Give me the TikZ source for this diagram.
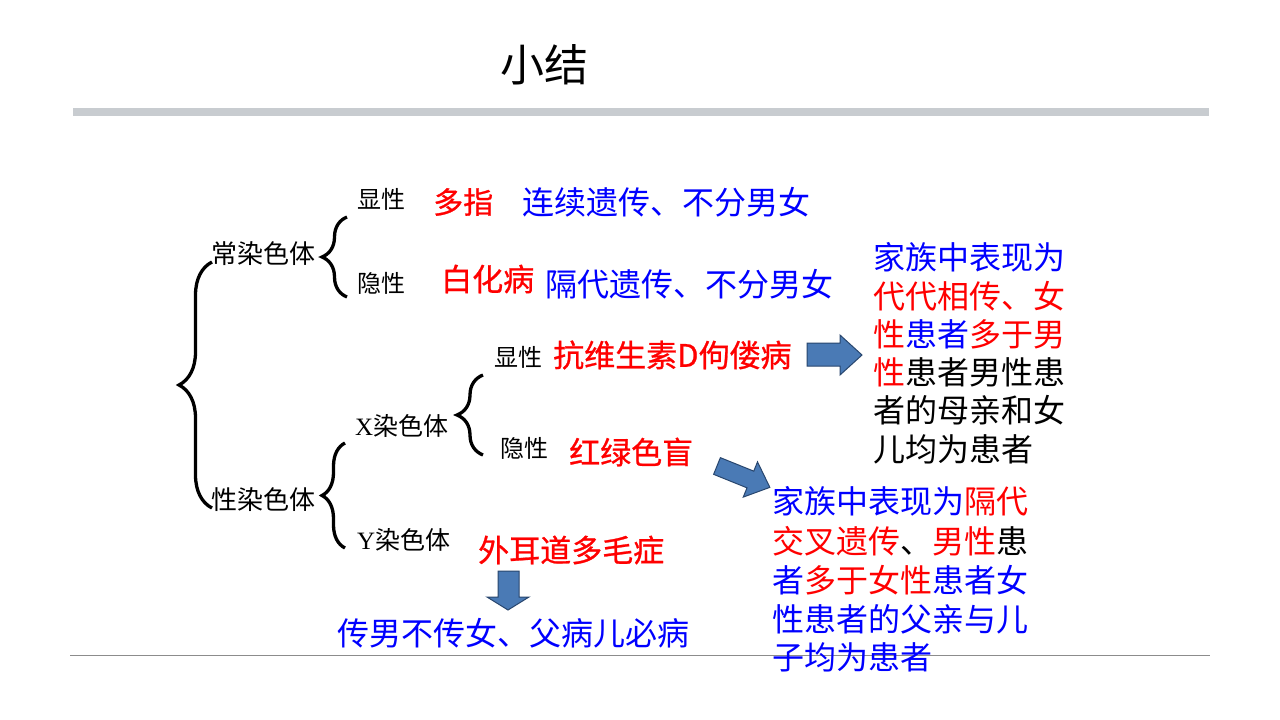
\documentclass[tikz,border=0pt]{standalone}
\usepackage{fontspec}
\setmainfont{Liberation Serif}
\newfontfamily\cjk{Noto Sans CJK SC}
\newfontfamily\cjkb[FakeBold=0.8]{Noto Sans CJK SC}
\usetikzlibrary{decorations.pathreplacing}
\definecolor{tred}{RGB}{255,0,0}
\definecolor{tblue}{RGB}{0,0,255}
\definecolor{barcol}{RGB}{200,204,208}
\definecolor{arrfill}{RGB}{74,122,181}
\definecolor{arrline}{RGB}{40,70,110}
\tikzset{
  lbl/.style={anchor=west, inner sep=0pt, font=\cjk\fontsize{24}{28}\selectfont, text=black},
  cat/.style={anchor=west, inner sep=0pt, font=\cjk\fontsize{26}{30}\selectfont, text=black},
  dis/.style={anchor=west, inner sep=0pt, font=\cjkb\fontsize{31}{36}\selectfont, text=tred},
  desc/.style={anchor=west, inner sep=0pt, font=\cjk\fontsize{32}{36}\selectfont, text=tblue},
  blk/.style={anchor=west, inner sep=0pt, font=\cjk\fontsize{32}{36}\selectfont},
  brc/.style={line width=3.3pt, decorate, decoration={brace, amplitude=#1}},
  bigarrow/.style={fill=arrfill, draw=arrline, line width=1pt, line join=miter}
}
\newcommand{\R}[1]{\textcolor{tred}{#1}}
\newcommand{\B}[1]{\textcolor{tblue}{#1}}
\newcommand{\K}[1]{\textcolor{black}{#1}}
\begin{document}
\begin{tikzpicture}[x=1pt,y=-1pt]
\useasboundingbox (0,0) rectangle (1280,720);
\fill[white] (0,0) rectangle (1280,720);

% title and rules
\node[anchor=west, inner sep=0pt, font=\cjk\fontsize{44}{50}\selectfont] (title) at (500,65) {小结};
\fill[barcol] (73,108) rectangle (1209,116);
\draw[gray!90, line width=1pt] (70,655) -- (1210,655);

% autosomal
\node[cat] (auto) at (211,254) {常染色体};
\node[lbl] (dom1) at (357,199) {显性};
\node[dis, font=\cjkb\fontsize{30}{34}\selectfont] (d1) at (433,202) {多指};
\node[desc] (t1) at (522,202) {连续遗传、不分男女};
\node[lbl] (rec1) at (357,283) {隐性};
\node[dis] (d2) at (441,279) {白化病};
\node[desc] (t2) at (545,284) {隔代遗传、不分男女};

% sex chromosomes
\node[cat] (sex) at (211,500) {性染色体};
\node[cat, font=\fontsize{25}{30}\selectfont] (xch) at (355,426) {X{\cjk 染色体}};
\node[cat, font=\fontsize{25}{30}\selectfont] (ych) at (357,540) {Y{\cjk 染色体}};
\node[lbl] (dom2) at (494,357) {显性};
\node[dis] (d3) at (553,355) {抗维生素D佝偻病};
\node[lbl] (rec2) at (500,448) {隐性};
\node[dis] (d4) at (569,452) {红绿色盲};
\node[dis] (d5) at (478,550) {外耳道多毛症};
\node[desc] (t5) at (337,633) {传男不传女、父病儿必病};

% braces
\draw[brc=33] (212,508) -- (212,262);
\draw[brc=25] (347,297) -- (347,217);
\draw[brc=23] (345,548) -- (345,443);
\draw[brc=26] (483,455) -- (483,375);

% block 1
\node[blk] (b11) at (873,257) {\B{家族中表现为}};
\node[blk] (b12) at (873,296) {\R{代代相传、女}};
\node[blk] (b13) at (873,334) {\R{性}\B{患者}\R{多于男}};
\node[blk] (b14) at (873,372) {\R{性}\K{患者男性患}};
\node[blk] (b15) at (873,410) {\K{者的母亲和女}};
\node[blk] (b16) at (873,449) {\K{儿均为患者}};

% block 2
\node[blk] (b21) at (772,501) {\B{家族中表现为}\R{隔代}};
\node[blk] (b22) at (772,541) {\R{交叉遗传}\K{、}\R{男性}\K{患}};
\node[blk] (b23) at (772,580) {\B{者}\R{多于女性}\B{患者女}};
\node[blk] (b24) at (772,619) {\B{性患者的父亲与儿}};
\node[blk] (b25) at (772,657) {\B{子均为患者}};

% arrows
\draw[bigarrow] (807,343) -- (840,343) -- (840,335) -- (862,355) -- (840,375) -- (840,366) -- (807,366) -- cycle;
\begin{scope}[shift={(717,466)}, rotate=-22]
\draw[bigarrow] (0,-9) -- (36,-9) -- (36,-19) -- (57,0) -- (36,19) -- (36,9) -- (0,9) -- cycle;
\end{scope}
\draw[bigarrow] (498,571) -- (519,571) -- (519,597) -- (529,597) -- (508,610) -- (487,597) -- (498,597) -- cycle;
\end{tikzpicture}
\end{document}
